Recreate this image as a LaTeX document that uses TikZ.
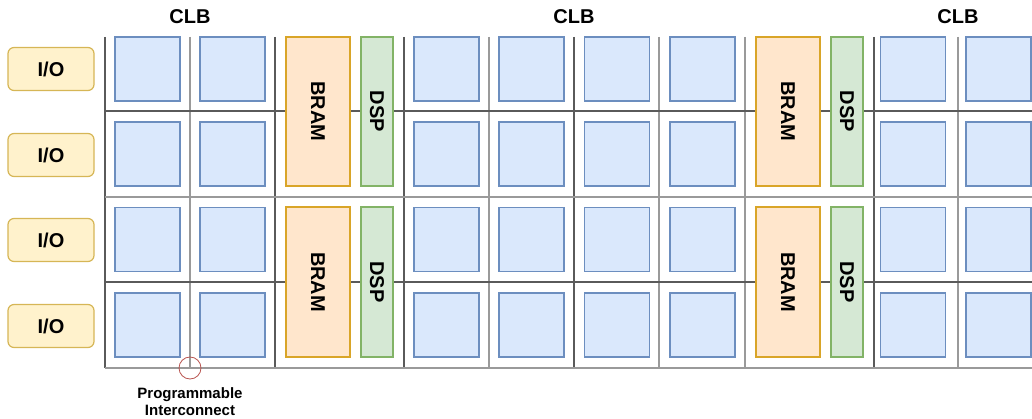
\documentclass[tikz,border=0pt]{standalone}
\usepackage{fontspec}
\setmainfont{Liberation Sans}
\definecolor{clbfill}{HTML}{DAE8FC}
\definecolor{clbline}{HTML}{6C8EBF}
\definecolor{bramfill}{HTML}{FFE6CC}
\definecolor{bramline}{HTML}{D9A528}
\definecolor{dspfill}{HTML}{D5E8D4}
\definecolor{dspline}{HTML}{82B366}
\definecolor{iofill}{HTML}{FFF2CC}
\definecolor{ioline}{HTML}{D6B656}
\definecolor{darkgrid}{HTML}{5A5A5A}
\definecolor{lightgrid}{HTML}{9A9A9A}
\definecolor{redc}{HTML}{B85450}
\tikzset{
  darkline/.style={draw=darkgrid, line width=1.2pt},
  lightline/.style={draw=lightgrid, line width=2pt},
  clb/.style={draw=clbline, fill=clbfill, line width=1.4pt, minimum width=65pt, minimum height=64pt, inner sep=0pt},
  bram/.style={draw=bramline, fill=bramfill, line width=1.4pt, minimum width=64pt, inner sep=0pt, font=\fontsize{20}{24}\selectfont\bfseries},
  dsp/.style={draw=dspline, fill=dspfill, line width=1.4pt, minimum width=32pt, inner sep=0pt, font=\fontsize{20}{24}\selectfont\bfseries},
  io/.style={draw=ioline, fill=iofill, line width=1.2pt, rounded corners=6pt, minimum width=86pt, minimum height=43pt, inner sep=0pt, font=\fontsize{20}{24}\selectfont\bfseries},
  title/.style={font=\fontsize{20}{24}\selectfont\bfseries, inner sep=0pt},
  vtext/.style={rotate=-90, inner sep=0pt, font=\fontsize{20}{24}\selectfont\bfseries},
}
\begin{document}
\begin{tikzpicture}[x=1pt,y=-1pt]
\useasboundingbox (0,0) rectangle (1032,419);
% grid lines
\foreach \x in {105,275,404,574,874} \draw[darkline] (\x,37) -- (\x,368);
\foreach \x in {190,489,659,745,958} \draw[lightline] (\x,37) -- (\x,368);
\foreach \y in {111,282} \draw[darkline] (105,\y) -- (1032,\y);
\foreach \y in {197,368} \draw[lightline] (105,\y) -- (1032,\y);
% CLB squares
\foreach \cx [count=\i] in {147.5,232.5,446.5,531.5,617,702.5,913,998.5}
  \foreach \cy [count=\j] in {69,154,239.5,325}
    \node[clb] (c\i-\j) at (\cx,\cy) {};
% BRAM and DSP
\node[bram, minimum height=149pt] (bram1) at (318,111.5) {};
\node[vtext] (bram1t) at (bram1.center) {BRAM};
\node[bram, minimum height=150pt] (bram2) at (318,282) {};
\node[vtext] (bram2t) at (bram2.center) {BRAM};
\node[bram, minimum height=149pt] (bram3) at (788,111.5) {};
\node[vtext] (bram3t) at (bram3.center) {BRAM};
\node[bram, minimum height=150pt] (bram4) at (788,282) {};
\node[vtext] (bram4t) at (bram4.center) {BRAM};
\node[dsp, minimum height=149pt] (dsp1) at (377,111.5) {};
\node[vtext] (dsp1t) at (dsp1.center) {DSP};
\node[dsp, minimum height=150pt] (dsp2) at (377,282) {};
\node[vtext] (dsp2t) at (dsp2.center) {DSP};
\node[dsp, minimum height=149pt] (dsp3) at (847,111.5) {};
\node[vtext] (dsp3t) at (dsp3.center) {DSP};
\node[dsp, minimum height=150pt] (dsp4) at (847,282) {};
\node[vtext] (dsp4t) at (dsp4.center) {DSP};
% I/O
\foreach \cy [count=\k] in {69,155,240,326}
  \node[io] (io\k) at (51,\cy) {I/O};
% titles
\node[title] (clbA) at (190,17) {CLB};
\node[title] (clbB) at (574,17) {CLB};
\node[title] (clbC) at (958,17) {CLB};
% interconnect marker
\node[draw=redc, circle, line width=0.8pt, minimum size=22pt, inner sep=0pt] (pi) at (190,368) {};
\node[font=\fontsize{15}{17}\selectfont\bfseries, align=center, inner sep=0pt] (pilabel) at (190,401.5) {Programmable\\Interconnect};
\end{tikzpicture}
\end{document}
